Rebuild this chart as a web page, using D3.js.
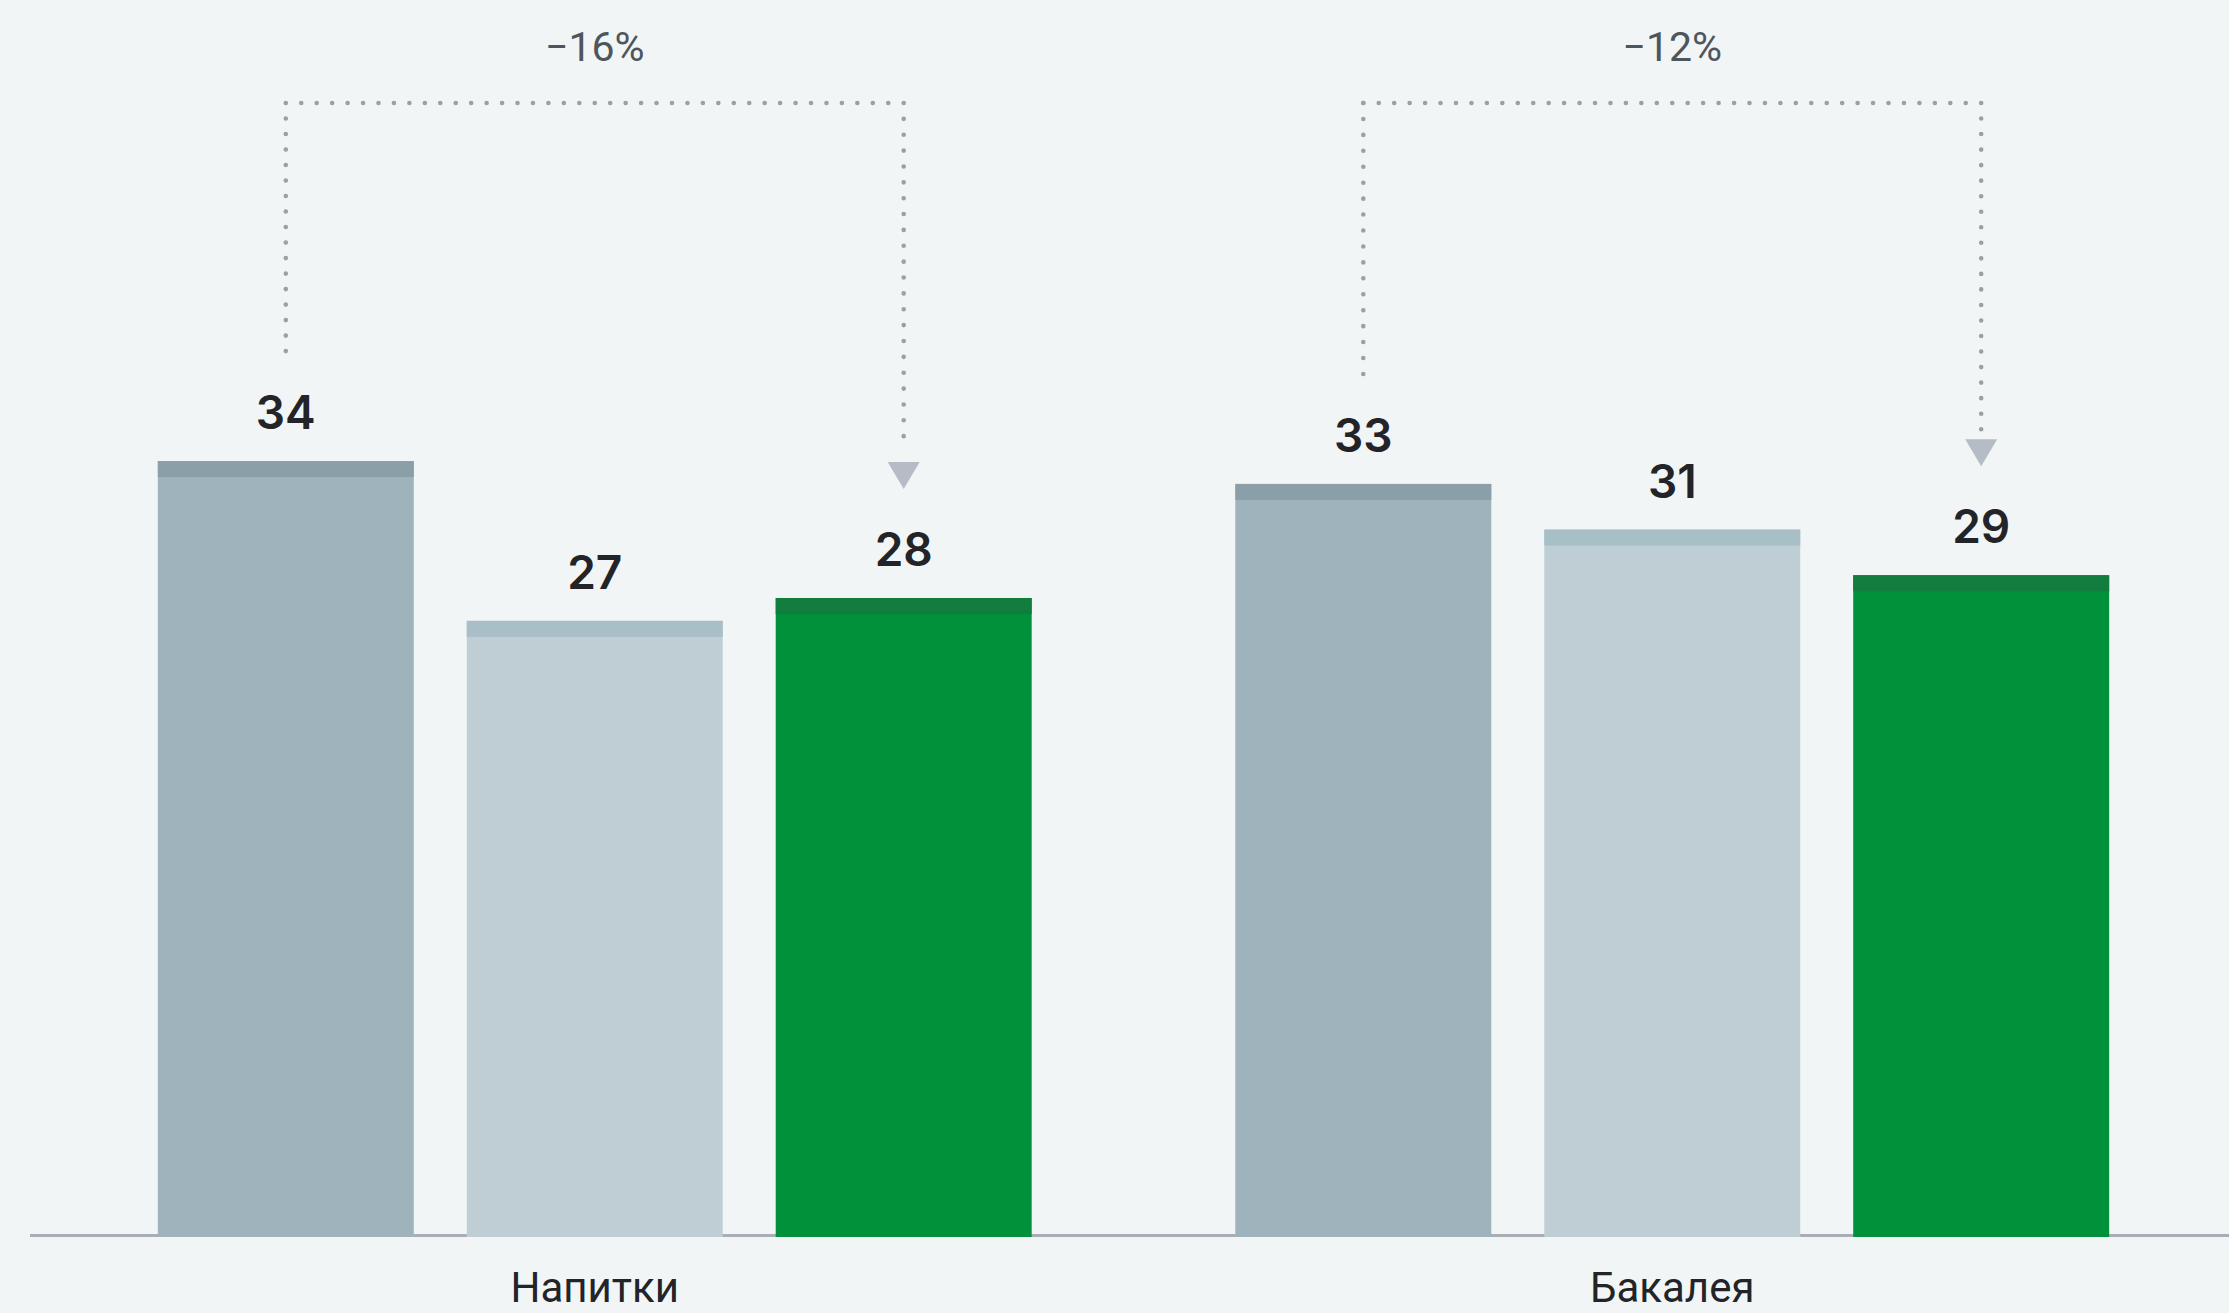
<!DOCTYPE html>
<html>
<head>
<meta charset="utf-8">
<script src="https://cdn.jsdelivr.net/npm/d3@7"></script>
<style>
  html, body { margin: 0; padding: 0; background: #f1f5f6; }
  svg { display: block; }
</style>
</head>
<body>
<svg id="chart" width="2229" height="1313"></svg>
<script>
// ---- data ----
const categories = ["Напитки", "Бакалея"];
const seriesKeys = ["a", "b", "c"];
const seriesA = [34, 33];
const seriesB = [27, 31];
const seriesC = [28, 29];
const changeLabels = ["\u221216%", "\u221212%"];

const seriesValues = [seriesA, seriesB, seriesC];
const fills = ["#9eb3bb", "#bfced5", "#00913a"];
const caps  = ["#8a9fa7", "#a9bfc7", "#127d3e"];

const W = 2229, H = 1313;
const svg = d3.select("#chart");

const x0 = d3.scaleBand().domain(categories).range([56, 2211]).paddingInner(0.189).paddingOuter(0.0945);
const x1 = d3.scaleBand().domain(seriesKeys).range([0, x0.bandwidth()]).paddingInner(0.1715).paddingOuter(0);
const y = d3.scaleLinear().domain([0, 40]).range([1237, 1237 - 40 * 22.82]);

// baseline
svg.append("line")
  .attr("x1", 30).attr("x2", W)
  .attr("y1", 1235.5).attr("y2", 1235.5)
  .attr("stroke", "#a9aeb4").attr("stroke-width", 3);

const rows = [];
categories.forEach((c, ci) => {
  seriesKeys.forEach((k, si) => {
    rows.push({ cat: c, ci, key: k, si, v: seriesValues[si][ci] });
  });
});

const g = svg.append("g");
// bars
g.selectAll("rect.bar").data(rows).join("rect")
  .attr("class", "bar")
  .attr("x", d => x0(d.cat) + x1(d.key))
  .attr("y", d => y(d.v))
  .attr("width", x1.bandwidth())
  .attr("height", d => y(0) - y(d.v))
  .attr("fill", d => fills[d.si]);
// caps
g.selectAll("rect.cap").data(rows).join("rect")
  .attr("class", "cap")
  .attr("x", d => x0(d.cat) + x1(d.key))
  .attr("y", d => y(d.v))
  .attr("width", x1.bandwidth())
  .attr("height", 16)
  .attr("fill", d => caps[d.si]);
// value labels
g.selectAll("text.val").data(rows).join("text")
  .attr("class", "val")
  .attr("x", d => x0(d.cat) + x1(d.key) + x1.bandwidth() / 2)
  .attr("y", d => y(d.v) - 32)
  .attr("text-anchor", "middle")
  .attr("font-family", "Inter, 'Noto Sans', sans-serif")
  .attr("font-weight", 600)
  .attr("font-size", 46)
  .attr("fill", "#222428")
  .text(d => d.v);

// category labels
svg.selectAll("text.cat").data(categories).join("text")
  .attr("class", "cat")
  .attr("x", d => x0(d) + x0.bandwidth() / 2)
  .attr("y", 1302)
  .attr("text-anchor", "middle")
  .attr("font-family", "Roboto, 'Noto Sans', sans-serif")
  .attr("font-size", 42)
  .attr("fill", "#222428")
  .text(d => d);

// connectors
const dotColor = "#9aa0a8";
function dotted(xa, ya, xb, yb) {
  const len = Math.hypot(xb - xa, yb - ya);
  const n = Math.max(1, Math.round(len / 15.6));
  svg.append("line")
    .attr("x1", xa).attr("y1", ya).attr("x2", xb).attr("y2", yb)
    .attr("stroke", dotColor).attr("stroke-width", 4.6)
    .attr("stroke-linecap", "round")
    .attr("stroke-dasharray", `0 ${len / n}`);
}
const topY = 103;
categories.forEach((c, ci) => {
  const xl = x0(c) + x1(seriesKeys[0]) + x1.bandwidth() / 2;
  const xr = x0(c) + x1(seriesKeys[2]) + x1.bandwidth() / 2;
  const lBottom = y(seriesA[ci]) - 32 - 34 - 44;
  const arrowTip = y(seriesC[ci]) - 32 - 34 - 43;
  const arrowTop = arrowTip - 27;
  dotted(xl, lBottom, xl, topY);
  dotted(xl, topY, xr, topY);
  dotted(xr, topY, xr, arrowTop - 10);
  svg.append("path")
    .attr("d", `M${xr - 16},${arrowTop} L${xr + 16},${arrowTop} L${xr},${arrowTip} Z`)
    .attr("fill", "#b6bcc5");
  svg.append("text")
    .attr("x", (xl + xr) / 2)
    .attr("y", 61)
    .attr("text-anchor", "middle")
    .attr("font-family", "Roboto, 'Noto Sans', sans-serif")
    .attr("font-weight", 400)
    .attr("font-size", 41)
    .attr("fill", "#4f555c")
    .text(changeLabels[ci]);
});
</script>
</body>
</html>
